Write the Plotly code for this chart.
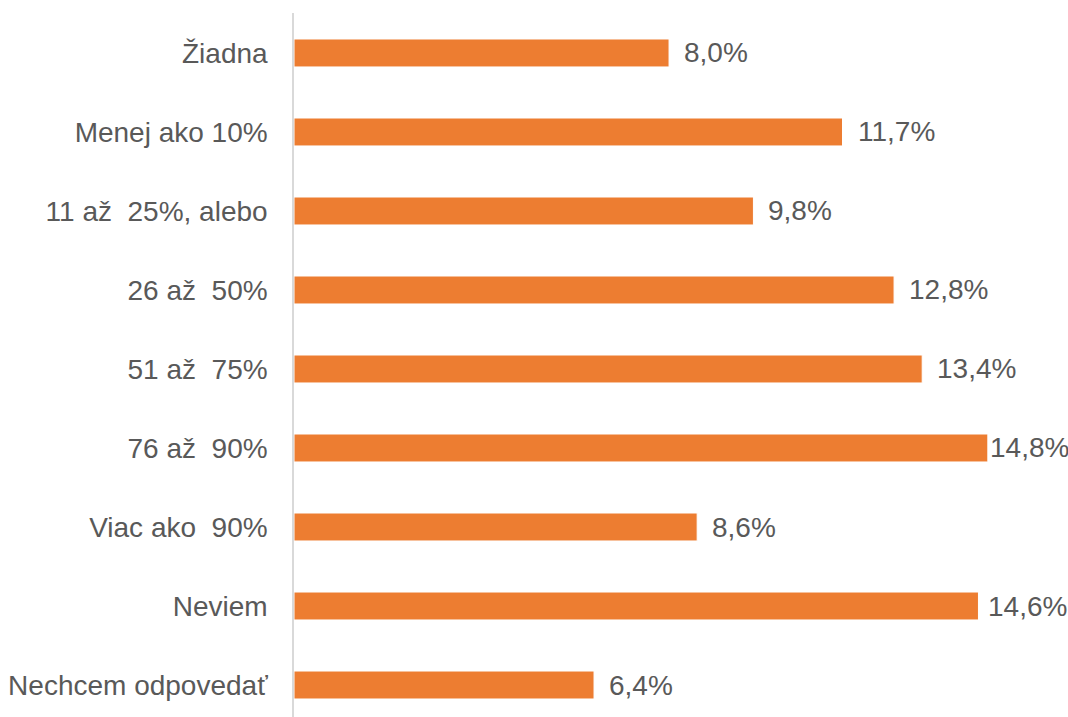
import plotly.graph_objects as go

categories = ["Žiadna", "Menej ako 10%", "11 až \u00a025%, alebo", "26 až \u00a050%",
              "51 až \u00a075%", "76 až \u00a090%", "Viac ako \u00a090%", "Neviem",
              "Nechcem odpovedať"]
values = [8.0, 11.7, 9.8, 12.8, 13.4, 14.8, 8.6, 14.6, 6.4]
value_labels = ["8,0%", "11,7%", "9,8%", "12,8%", "13,4%", "14,8%", "8,6%", "14,6%", "6,4%"]

ORANGE = "#ED7D31"
TEXT = "#595959"
FONT = "Liberation Sans, Arial, sans-serif"

X_MAX = 16.51
PLOT_W = 774  # 1068 - left margin

fig = go.Figure()
fig.add_trace( go.Bar( y=categories, x=values, orientation="h",
                       marker={ "color" : ORANGE, "line" : { "color" : "white", "width" : 1 } },
                       hoverinfo="x+y" ) )

px_per_unit = PLOT_W / X_MAX
for cat, v, lab in zip( categories, values, value_labels ):
    # labels near the right edge get pulled in so they still fit
    room = ( X_MAX - v ) * px_per_unit - 82
    shift = max( 0, min( 13, room ) )
    fig.add_annotation( x=v, y=cat, text=lab, showarrow=False,
                        xanchor="left", xshift=shift,
                        font={ "family" : FONT, "size" : 28, "color" : TEXT } )

fig.update_xaxes( range=[0, X_MAX], visible=False, fixedrange=True )
fig.update_yaxes( type="category", range=[8.405, -0.506],
                  showline=True, linecolor="#D9D9D9", linewidth=1.5,
                  ticks="", ticklabelstandoff=19, showgrid=False,
                  tickfont={ "family" : FONT, "size" : 28, "color" : TEXT } )
fig.update_layout( template="simple_white",
                   width=1068, height=717,
                   bargap=0.646,
                   showlegend=False,
                   plot_bgcolor="white",
                   paper_bgcolor="white",
                   margin={ "l" : 294, "r" : 0, "t" : 13, "b" : 0 } )

# drop the default body margin so the figure fills the window exactly
fig.write_html( "out.html",
                config={ "displayModeBar" : False },
                post_script="document.body.style.margin='0';document.body.style.overflow='hidden';" )
